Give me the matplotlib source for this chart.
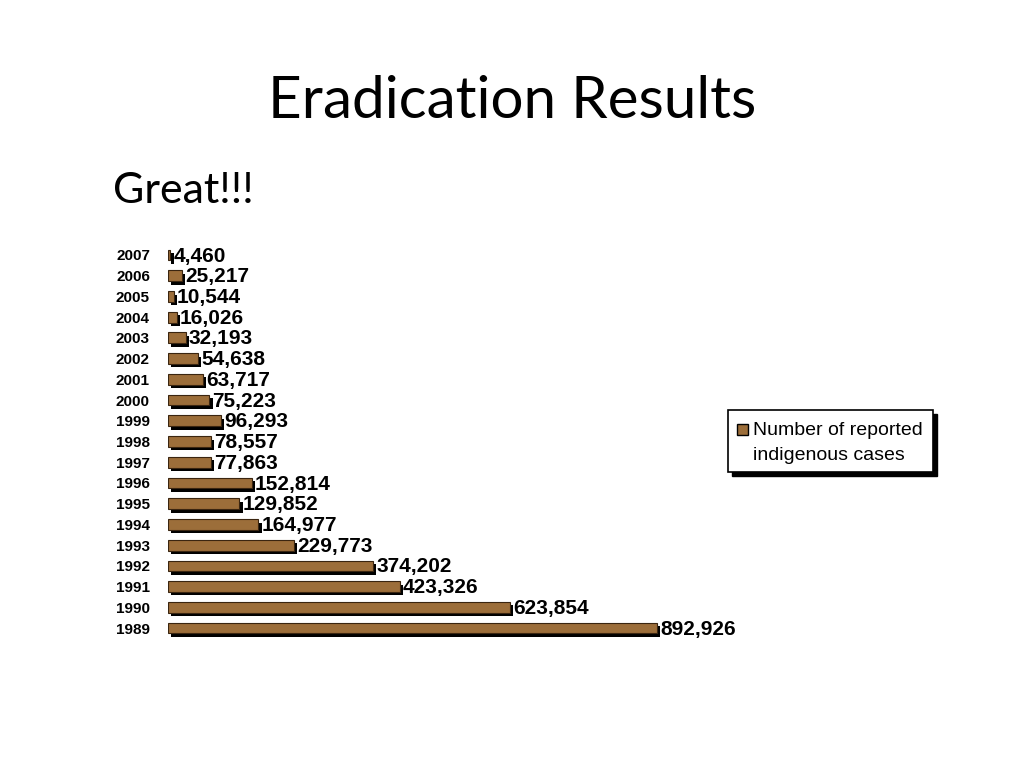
import matplotlib.pyplot as plt
import matplotlib.patheffects as pe
from matplotlib.patches import Rectangle

# データ
years = ['2007', '2006', '2005', '2004', '2003', '2002', '2001', '2000', '1999', '1998',
         '1997', '1996', '1995', '1994', '1993', '1992', '1991', '1990', '1989']
cases = [4460, 25217, 10544, 16026, 32193, 54638, 63717, 75223, 96293, 78557,
         77863, 152814, 129852, 164977, 229773, 374202, 423326, 623854, 892926]
legend_label = 'Number of reported\nindigenous cases'

bar_color = '#9c6e3a'
narrow = ['Liberation Sans Narrow', 'Liberation Sans', 'DejaVu Sans']

fig = plt.figure(figsize=(10.24, 7.68), dpi=100)
fig.patch.set_facecolor('white')

# タイトル
fig.text(0.5, 1 - 118 / 768, 'Eradication Results', ha='center', va='baseline',
         fontsize=42, family=['Lato', 'DejaVu Sans'])
fig.text(0.110, 1 - 203 / 768, 'Great!!!', ha='left', va='baseline',
         fontsize=31, family=['Lato', 'DejaVu Sans'])

# 棒グラフ
ax = fig.add_axes([168 / 1024, 0.1687, 0.5348, 0.5128])
ypos = list(range(len(years)))[::-1]
bars = ax.barh(ypos, cases, height=0.52, color=bar_color,
               edgecolor='#3a2510', linewidth=0.8)
for b in bars:
    b.set_path_effects([pe.SimplePatchShadow(offset=(2.5, -2.5), shadow_rgbFace='black', alpha=1.0),
                        pe.Normal()])

for y, v in zip(ypos, cases):
    ax.text(v + 6000, y - 0.05, f'{v:,}', ha='left', va='center',
            fontsize=15, fontweight='bold', family=narrow)

ax.set_xlim(0, 1000000)
ax.set_ylim(-0.5, len(years) - 0.5)
ax.set_yticks(ypos)
ax.set_yticklabels(years, fontsize=11, fontweight='bold', family=narrow)
ax.tick_params(axis='y', length=0, pad=13)
ax.set_xticks([])
for s in ax.spines.values():
    s.set_visible(False)
ax.patch.set_visible(False)

# 凡例
lx, ly, lw, lh = 728 / 1024, 1 - 472 / 768, 205 / 1024, 62 / 768
fig.patches.append(Rectangle((lx + 4 / 1024, ly - 4 / 768), lw, lh, transform=fig.transFigure,
                             facecolor='black', edgecolor='black', zorder=1))
fig.patches.append(Rectangle((lx, ly), lw, lh, transform=fig.transFigure,
                             facecolor='white', edgecolor='black', linewidth=1.2, zorder=2))
fig.patches.append(Rectangle((737 / 1024, 1 - 435 / 768), 11 / 1024, 11 / 768,
                             transform=fig.transFigure, facecolor=bar_color,
                             edgecolor='black', linewidth=1, zorder=3))
fig.text(753 / 1024, 1 - 443 / 768, legend_label, ha='left', va='center',
         fontsize=14, family=narrow, linespacing=1.55, zorder=4)

fig.savefig('out.png', dpi=100)
